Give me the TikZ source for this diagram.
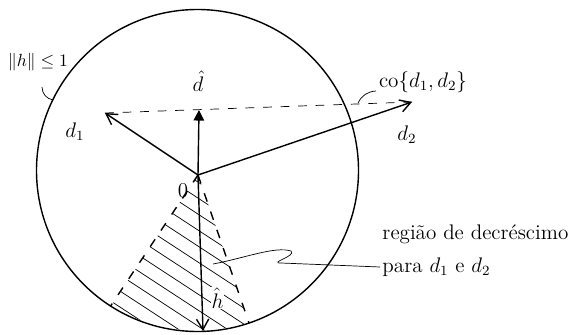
\documentclass[tikz,border=0pt]{standalone}
\usepackage{amsmath,amssymb}
\usetikzlibrary{arrows.meta,positioning}

\begin{document}
\begin{tikzpicture}[x=0.02cm,y=-0.02cm,line width=0.8pt,
  vec/.style={-{Straight Barb[length=6pt,width=7pt]}},
  cone/.style={dash pattern=on 5pt off 6pt},
  lbl/.style={font=\large,inner sep=1pt}]
  \useasboundingbox (0,0) rectangle (580,334);
  \coordinate (c) at (197.5,170.5);
  \coordinate (o) at (198,175);
  \coordinate (d1) at (105,113);
  \coordinate (d2) at (412,102);
  \coordinate (dh) at (199,110);
  \coordinate (hh) at (203,331);
  \coordinate (cl) at (110.6,306);
  \coordinate (cr) at (249,323);
  \draw (c) circle [radius=161];
  \begin{scope}
    \clip (c) circle [radius=160];
    \clip (o) -- (32,425) -- (296,459) -- cycle;
    \foreach \k in {0,...,12}
      \draw[thin] (100,102+\k*16) -- ++(260,170);
  \end{scope}
  \draw[cone] (o) -- (cl);
  \draw[cone] (o) -- (cr);
  \draw[thin,dash pattern=on 5pt off 5pt] (d1) -- (d2);
  \draw[vec] (o) -- (d1);
  \draw[vec] (o) -- (d2);
  \draw[-{Triangle[length=6pt,width=6pt]}] (o) -- (dh);
  \draw[vec] (o) -- (hh);
  \node[lbl] (lbd1) at (75,132) {$d_1$};
  \node[lbl] (lbd2) at (407,135) {$d_2$};
  \node[lbl] (lbdh) at (198,81) {$\hat{d}$};
  \node[lbl,anchor=west,fill=white,inner sep=0.5pt] (lbhh) at (210,298) {$\hat{h}$};
  \node[lbl] (lbo) at (183,191) {$0$};
  \node[lbl,font=\normalsize] (lbnorm) at (38,62) {$\|h\|\leq 1$};
  \node[lbl] (lbco) at (423,82) {$\mathrm{co}\{d_1,d_2\}$};
  \node[lbl,anchor=west] (lbreg) at (380,234) {região de decréscimo};
  \node[lbl,anchor=west] (lbpara) at (380,267) {para $d_1$ e $d_2$};
  \coordinate (nstart) at (42,87);
  \coordinate (ntip) at (53,100);
  \draw[thin] (nstart) to[bend right=40] (ntip);
  \coordinate (cstart) at (376,91);
  \coordinate (ctip) at (358,103);
  \draw[thin] (cstart) to[bend right=30] (ctip);
  \coordinate (rstart) at (213,264);
  \coordinate (rbend) at (291,251);
  \coordinate (rback) at (281,263);
  \draw[thin] (rstart) .. controls (245,258) and (275,246) .. (rbend)
    .. controls (297,256) and (268,263) .. (rback) -- (lbpara.west);
\end{tikzpicture}
\end{document}
